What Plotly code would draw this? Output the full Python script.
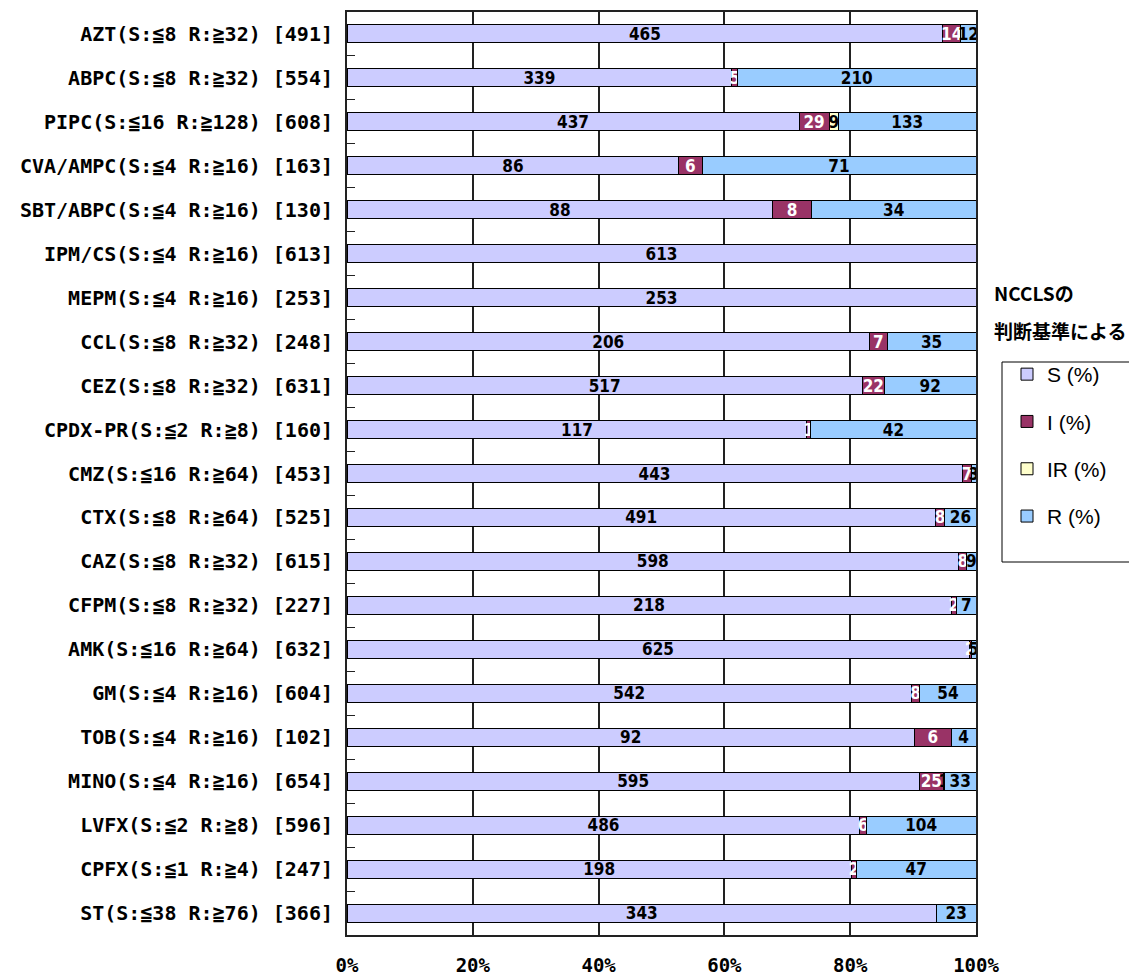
import plotly.graph_objects as go

categories = [
    "AZT(S:≦8 R:≧32) [491]",
    "ABPC(S:≦8 R:≧32) [554]",
    "PIPC(S:≦16 R:≧128) [608]",
    "CVA/AMPC(S:≦4 R:≧16) [163]",
    "SBT/ABPC(S:≦4 R:≧16) [130]",
    "IPM/CS(S:≦4 R:≧16) [613]",
    "MEPM(S:≦4 R:≧16) [253]",
    "CCL(S:≦8 R:≧32) [248]",
    "CEZ(S:≦8 R:≧32) [631]",
    "CPDX-PR(S:≦2 R:≧8) [160]",
    "CMZ(S:≦16 R:≧64) [453]",
    "CTX(S:≦8 R:≧64) [525]",
    "CAZ(S:≦8 R:≧32) [615]",
    "CFPM(S:≦8 R:≧32) [227]",
    "AMK(S:≦16 R:≧64) [632]",
    "GM(S:≦4 R:≧16) [604]",
    "TOB(S:≦4 R:≧16) [102]",
    "MINO(S:≦4 R:≧16) [654]",
    "LVFX(S:≦2 R:≧8) [596]",
    "CPFX(S:≦1 R:≧4) [247]",
    "ST(S:≦38 R:≧76) [366]",
]
S_vals = [465, 339, 437, 86, 88, 613, 253, 206, 517, 117, 443, 491, 598, 218, 625, 542, 92, 595, 486, 198, 343]
I_vals = [14, 5, 29, 6, 8, 0, 0, 7, 22, 1, 7, 8, 8, 2, 2, 8, 6, 25, 6, 2, 0]
IR_vals = [0, 0, 9, 0, 0, 0, 0, 0, 0, 0, 0, 0, 0, 0, 0, 0, 0, 1, 0, 0, 0]
R_vals = [12, 210, 133, 71, 34, 0, 0, 35, 92, 42, 3, 26, 9, 7, 5, 54, 4, 33, 104, 47, 23]
series_names = ["S (%)", "I (%)", "IR (%)", "R (%)"]
x_tick_vals = [0, 20, 40, 60, 80, 100]
x_tick_text = ["0%", "20%", "40%", "60%", "80%", "100%"]

colors = ["#CCCCFF", "#993366", "#FFFFCC", "#99CCFF"]
text_colors = ["black", "white", "black", "black"]
LABEL_FONT = "DejaVu Sans Condensed"
MONO = "DejaVu Sans Mono"

# page geometry (browser body has an 8px margin)
OFF = 8
W, H = 1137 - OFF, 979 - OFF
PL, PR, PT, PB = 347, 976, 12, 935  # plot area in page pixels


def px(X):
    return (X - PL) / (PR - PL)


def py(Y):
    return (PB - Y) / (PB - PT)


fig = go.Figure()
for i, (name, vals) in enumerate(zip(series_names, [S_vals, I_vals, IR_vals, R_vals])):
    fig.add_trace(go.Bar(
        y=categories, x=vals, name=name, orientation="h",
        marker=dict(color=colors[i], line=dict(color="black", width=1)),
        text=[str(v) if v > 0 else "" for v in vals],
        textposition="inside", insidetextanchor="middle", textangle=0,
        constraintext="none",
        textfont=dict(family=LABEL_FONT, size=17, color=text_colors[i], weight="bold"),
        legendgroup=name,
    ))

fig.update_layout(
    width=W, height=H,
    barmode="stack", barnorm="percent", bargap=0.59,
    plot_bgcolor="white", paper_bgcolor="white",
    margin=dict(l=PL - OFF, r=W - (PR - OFF), t=PT - OFF, b=H - (PB - OFF), autoexpand=False),
    uniformtext=dict(minsize=17, mode="show"),
    showlegend=True,
    legend=dict(
        x=px(1007), y=py(354), xanchor="left", yanchor="top",
        traceorder="grouped", tracegroupgap=17,
        font=dict(family="Liberation Sans", size=21, color="black"),
        bgcolor="rgba(0,0,0,0)", borderwidth=0,
        itemclick=False, itemdoubleclick=False,
    ),
)
fig.update_xaxes(
    range=[0, 100], tickvals=x_tick_vals, ticktext=x_tick_text,
    showgrid=True, gridcolor="#222222", gridwidth=1.5,
    showline=True, linecolor="#222222", linewidth=2, mirror=True,
    zeroline=False, ticks="", ticklabelstandoff=12, automargin=False,
    tickfont=dict(family=MONO, size=19, color="black", weight="bold"),
)
fig.update_yaxes(
    autorange="reversed", showgrid=False,
    showline=True, linecolor="#222222", linewidth=2, mirror=True,
    ticks="inside", tickson="boundaries", ticklen=8, tickcolor="#222222", tickwidth=1,
    ticklabelstandoff=8, automargin=False,
    tickfont=dict(family=MONO, size=20, color="black", weight="bold"),
)
# legend frame
fig.add_shape(type="rect", xref="paper", yref="paper",
              x0=px(1002), x1=px(1200), y0=py(562), y1=py(362),
              line=dict(color="black", width=1), fillcolor="rgba(0,0,0,0)")
fig.add_annotation(xref="paper", yref="paper", x=px(992), y=py(292),
                   xanchor="left", yanchor="middle", showarrow=False, align="left",
                   text="NCCLSの",
                   font=dict(family="Noto Sans CJK JP", size=19, color="black", weight="bold"))
fig.add_annotation(xref="paper", yref="paper", x=px(992), y=py(330),
                   xanchor="left", yanchor="middle", showarrow=False, align="left",
                   text="判断基準による",
                   font=dict(family="Noto Sans CJK JP", size=19, color="black", weight="bold"))

fig.write_html("out.html")
